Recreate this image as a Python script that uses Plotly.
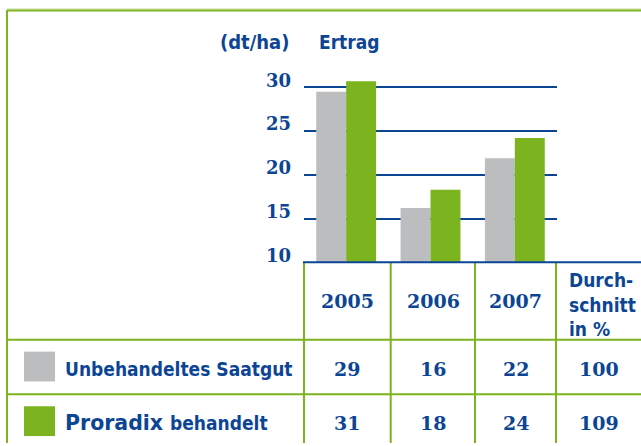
import plotly.graph_objects as go

# ---- data ----
years = ["2005", "2006", "2007"]
untreated = [29.5, 16.2, 21.9]      # bar heights (dt/ha)
proradix = [30.7, 18.3, 24.2]
untreated_table = ["29", "16", "22"]
proradix_table = ["31", "18", "24"]
avg_label = "Durch-<br>schnitt<br>in %"
avg_values = ["100", "109"]
untreated_name = "Unbehandeltes Saatgut"
brand_name = "Proradix"
treated_suffix = "behandelt"
tick_vals = [10, 15, 20, 25, 30]
tick_text = ["10", "15", "20", "25", "30"]
unit_label = "(dt/ha)"
title_label = "Ertrag"

# ---- style ----
W, H = 641, 446
BLUE = "#0d4595"
GREEN = "#7bb41f"
GRAY = "#bcbdbf"
SANS = "DejaVu Sans Condensed, Liberation Sans Narrow, Lato, sans-serif"
SERIF = "DejaVu Serif, serif"


def px(x):
    return x / W


def py(y):
    return 1 - y / H


fig = go.Figure()
fig.add_trace(go.Bar(x=years, y=untreated, name=untreated_name,
                     marker=dict(color=GRAY, line=dict(width=0))))
fig.add_trace(go.Bar(x=years, y=proradix, name=brand_name + " " + treated_suffix,
                     marker=dict(color=GREEN, line=dict(width=0))))

# plot area: x 304..557, y 10 at 264px, 30 at 88px
y_bottom_px, y_top_px = 264, 61.6
fig.update_layout(
    width=W, height=H, autosize=False,
    margin=dict(l=0, r=0, t=0, b=0),
    paper_bgcolor="white", plot_bgcolor="white",
    showlegend=False,
    barmode="group", bargap=0.29, bargroupgap=0,
    xaxis=dict(domain=[px(304), px(557)], showticklabels=False, showgrid=False,
               zeroline=False, showline=False, ticks=""),
    yaxis=dict(domain=[py(y_bottom_px), py(y_top_px)],
               range=[10, 10 + (y_bottom_px - y_top_px) / 8.8],
               tickvals=tick_vals, ticktext=tick_text,
               showgrid=True, gridcolor=BLUE, gridwidth=2,
               zeroline=False, showline=False, ticks="",
               ticklabelstandoff=12, ticklabelshift=-7,
               tickfont=dict(family=SERIF, size=18, color=BLUE, weight="bold")),
)

shapes = []
def line(x0, y0, x1, y1, color, width=2):
    shapes.append(dict(type="line", xref="paper", yref="paper",
                       x0=px(x0), y0=py(y0), x1=px(x1), y1=py(y1),
                       line=dict(color=color, width=width), layer="above"))

# frame
line(7, 9, 641, 9, "#c9e09f", 1)
line(7, 10.5, 641, 10.5, GREEN, 2)
line(7, 10, 7, 446, GREEN, 2)
# table grid
for x in [304, 390.7, 475, 556]:
    line(x, 264, x, 446, GREEN, 2)
line(7, 342, 641, 342, GREEN, 2)
line(7, 397, 641, 397, GREEN, 2)
# axis / table top
line(303, 264, 641, 264, BLUE, 2)

# legend squares
for (y0, y1, c) in [(354, 384, GRAY), (409, 439, GREEN)]:
    shapes.append(dict(type="rect", xref="paper", yref="paper",
                       x0=px(24), x1=px(55), y0=py(y1), y1=py(y0),
                       fillcolor=c, line=dict(width=0), layer="above"))
fig.update_layout(shapes=shapes)

ann = []
def text(t, x, y, xanchor="center", size=18, family=SANS, yanchor="middle"):
    ann.append(dict(text=t, x=px(x), y=py(y), xref="paper", yref="paper",
                    xanchor=xanchor, yanchor=yanchor, showarrow=False,
                    font=dict(family=family, size=size, color=BLUE, weight="bold"),
                    align="left"))

text(unit_label, 291, 42, xanchor="right", size=20)
text(title_label, 317, 42, xanchor="left", size=19)

col_centers = [347.5, 433, 515.5]
for yr, cx, a, b in zip(years, col_centers, untreated_table, proradix_table):
    text(yr, cx, 303, size=19, family=SERIF)
    text(a, cx, 372, size=19, family=SERIF)
    text(b, cx, 426, size=19, family=SERIF)
text(avg_label, 567, 269, xanchor="left", size=19, yanchor="top")
text(avg_values[0], 599, 372, size=19, family=SERIF)
text(avg_values[1], 599, 426, size=19, family=SERIF)

text(untreated_name, 63, 372, xanchor="left", size=19)
text(brand_name, 63, 426, xanchor="left", size=20.5, family="DejaVu Sans, sans-serif")
text(treated_suffix, 168, 426, xanchor="left", size=19)

fig.update_layout(annotations=ann)
fig.write_html("out.html", post_script="document.body.style.margin='0';",
               config={"displayModeBar": False})
